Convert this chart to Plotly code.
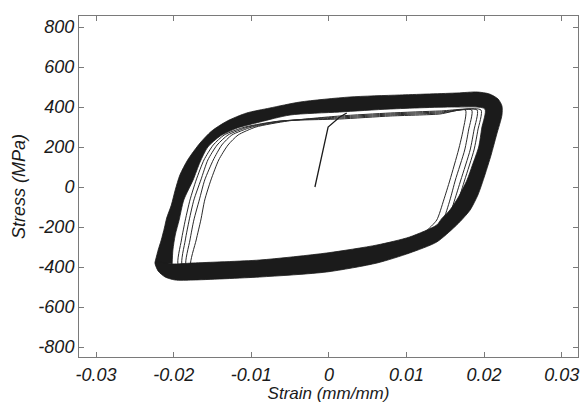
import plotly.graph_objects as go

# ---- data (strain in mm/mm, stress in MPa) ----
# outer edge of the stabilised-cycle band (many overlapping cycles)
band_outer_strain = [-0.0224, -0.0220, -0.0216, -0.0212, -0.0209, -0.0203, -0.0198, -0.0192, -0.0182, -0.0166,
                     -0.0151, -0.0131, -0.0106, -0.0076, -0.0037, 0.0027, 0.0091, 0.0165, 0.0191, 0.0207,
                     0.0218, 0.0223, 0.0223, 0.0216, 0.0209, 0.0201, 0.0192, 0.0182, 0.0171, 0.0162,
                     0.0139, 0.0104, 0.0062, -0.0003, -0.0089, -0.0175, -0.0198, -0.0211, -0.0220, -0.0224]
band_outer_stress = [-375, -315, -265, -205, -155, -90, -15, 60, 135, 220,
                     280, 330, 370, 395, 425, 450, 460, 470, 475, 465,
                     440, 405, 360, 260, 160, 60, -40, -115, -165, -200,
                     -275, -330, -380, -425, -450, -465, -465, -450, -420, -375]

# inner edge of the band
band_inner_strain = [-0.0202, -0.0201, -0.0198, -0.0193, -0.0187, -0.0175, -0.0166, -0.0156, -0.0140, -0.0118,
                     -0.0089, -0.0050, 0.0014, 0.0079, 0.0165, 0.0201, 0.0197, 0.0193, 0.0185, 0.0178,
                     0.0167, 0.0156, 0.0145, 0.0139, 0.0104, 0.0062, -0.0003, -0.0089, -0.0175, -0.0202]
band_inner_stress = [-385, -315, -240, -165, -65, 35, 125, 200, 255, 295,
                     325, 360, 375, 390, 400, 390, 295, 200, 110, 35,
                     -50, -115, -160, -190, -250, -290, -330, -365, -380, -385]

# early (not yet stabilised) cycles drawn as thin lines
early_strain = [
    [-0.0194, -0.0190, -0.0185, -0.0179, -0.0171, -0.0161, -0.0149, -0.0135, -0.0108, -0.0063, 0.0014, 0.0079, 0.0143,
     0.0176, 0.0173, 0.0167, 0.0156, 0.0148, 0.0139, 0.0124, 0.0104, 0.0062, -0.0003, -0.0089, -0.0166, -0.0194],
    [-0.0189, -0.0185, -0.0180, -0.0174, -0.0165, -0.0156, -0.0144, -0.0130, -0.0104, -0.0061, 0.0014, 0.0079, 0.0143,
     0.0184, 0.0180, 0.0175, 0.0163, 0.0156, 0.0147, 0.0130, 0.0104, 0.0062, -0.0003, -0.0089, -0.0166, -0.0189],
    [-0.0184, -0.0179, -0.0174, -0.0167, -0.0160, -0.0149, -0.0138, -0.0125, -0.0099, -0.0057, 0.0014, 0.0079, 0.0143,
     0.0191, 0.0187, 0.0182, 0.0170, 0.0162, 0.0153, 0.0136, 0.0104, 0.0062, -0.0003, -0.0089, -0.0166, -0.0184],
    [-0.0178, -0.0171, -0.0165, -0.0160, -0.0152, -0.0142, -0.0130, -0.0117, -0.0094, -0.0053, 0.0014, 0.0079, 0.0143,
     0.0196, 0.0192, 0.0187, 0.0175, 0.0167, 0.0158, 0.0142, 0.0104, 0.0062, -0.0003, -0.0089, -0.0166, -0.0178],
]
early_stress = [
    [-390, -265, -165, -65, 35, 135, 210, 260, 300, 330, 340, 355, 365,
     385, 285, 185, 35, -65, -165, -225, -275, -315, -355, -385, -400, -390],
    [-390, -265, -165, -65, 35, 135, 210, 260, 300, 330, 345, 360, 370,
     385, 285, 185, 35, -65, -165, -225, -275, -315, -355, -385, -400, -390],
    [-390, -265, -165, -65, 35, 135, 210, 260, 300, 330, 350, 365, 375,
     385, 285, 185, 35, -65, -165, -225, -275, -315, -355, -385, -400, -390],
    [-390, -265, -165, -65, 35, 135, 210, 260, 300, 330, 355, 370, 380,
     385, 285, 185, 35, -65, -165, -225, -275, -315, -355, -385, -400, -390],
]

# initial monotonic loading
initial_strain = [-0.0018, -0.0001, 0.0014, 0.0023]
initial_stress = [0, 300, 350, 370]

x_ticks = [-0.03, -0.02, -0.01, 0, 0.01, 0.02, 0.03]
x_tick_text = ["-0.03", "-0.02", "-0.01", "0", "0.01", "0.02", "0.03"]
y_ticks = [-800, -600, -400, -200, 0, 200, 400, 600, 800]
y_tick_text = ["-800", "-600", "-400", "-200", "0", "200", "400", "600", "800"]

# ---- figure ----
fig = go.Figure()

for xs, ys in zip(early_strain, early_stress):
    fig.add_trace(go.Scatter(x=xs, y=ys, mode="lines",
                             line=dict(color="#2a2a2a", width=1, shape="spline", smoothing=0.6),
                             hoverinfo="skip", showlegend=False))

# band polygon: outer loop then inner loop reversed (leaves a hole)
poly_x = band_outer_strain + band_inner_strain[::-1]
poly_y = band_outer_stress + band_inner_stress[::-1]
fig.add_trace(go.Scatter(x=poly_x, y=poly_y, mode="lines", fill="toself",
                         fillcolor="#1b1b1b",
                         line=dict(color="#1b1b1b", width=0.8, shape="spline", smoothing=0.7),
                         hoverinfo="skip", showlegend=False))

fig.add_trace(go.Scatter(x=initial_strain, y=initial_stress, mode="lines",
                         line=dict(color="#1b1b1b", width=1.3),
                         hoverinfo="skip", showlegend=False))

axis_font = dict(family="Liberation Sans, Arial, sans-serif", size=18, color="#1a1a1a", style="italic")
title_font = dict(family="Liberation Sans, Arial, sans-serif", size=17, color="#1a1a1a", style="italic")

fig.update_xaxes(range=[-0.0322, 0.0321], tickvals=x_ticks, ticktext=x_tick_text,
                 ticks="inside", ticklen=5, tickcolor="#7a7a7a", tickwidth=1,
                 showline=True, linecolor="#7a7a7a", linewidth=1, mirror="ticks",
                 showgrid=False, zeroline=False, tickfont=axis_font, ticklabelstandoff=1,
                 title=dict(text="Strain (mm/mm)", font=title_font, standoff=6))
fig.update_yaxes(range=[-850, 855], tickvals=y_ticks, ticktext=y_tick_text,
                 ticks="inside", ticklen=5, tickcolor="#7a7a7a", tickwidth=1,
                 showline=True, linecolor="#7a7a7a", linewidth=1, mirror="ticks",
                 showgrid=False, zeroline=False, tickfont=axis_font,
                 title=dict(text="Stress (MPa)", font=axis_font, standoff=8))

fig.update_layout(width=583, height=403,
                  margin=dict(l=79, r=5, t=16, b=46, autoexpand=False),
                  plot_bgcolor="white", paper_bgcolor="white",
                  showlegend=False)

fig.write_html("out.html")
